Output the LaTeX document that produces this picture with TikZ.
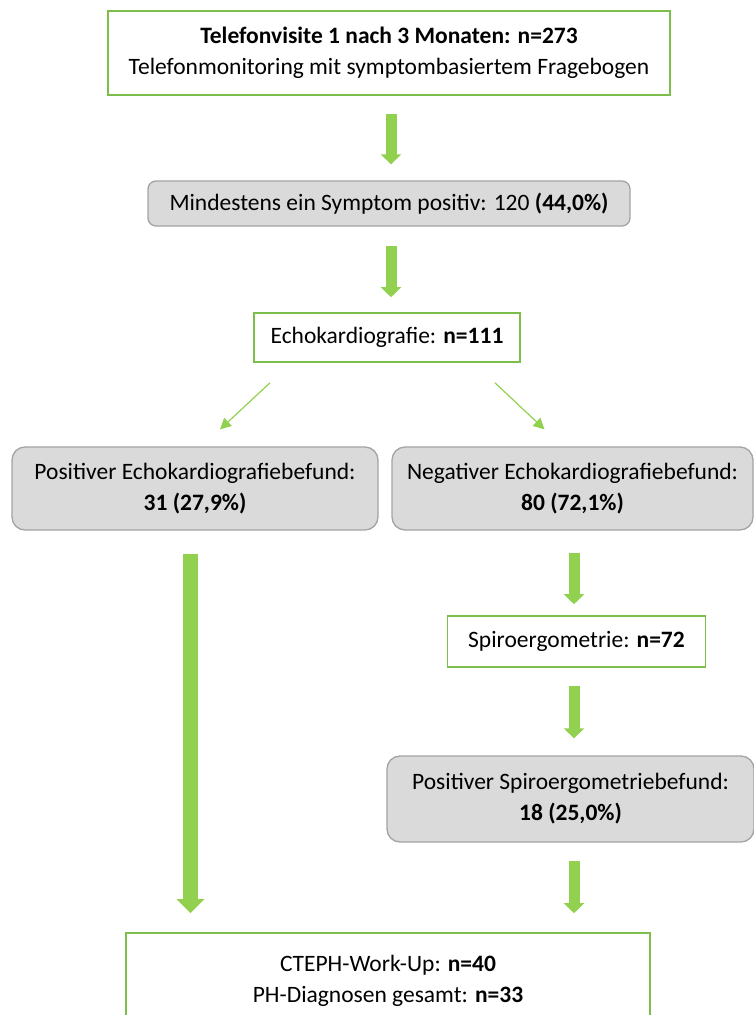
\documentclass[tikz,border=0pt]{standalone}
\usepackage{fontspec}
\setmainfont{Carlito}
\usetikzlibrary{arrows.meta}
\definecolor{gborder}{HTML}{7DBE4B}
\definecolor{garrow}{HTML}{92D050}
\definecolor{gfill}{HTML}{DADADA}
\definecolor{gline}{HTML}{A3A3A3}
\tikzset{
  x=1pt, y=-1pt,
  txt/.style={font=\fontsize{23.5}{31}\selectfont, align=center, inner sep=0pt, text=black},
  greenbox/.style={txt, draw=gborder, line width=1.6pt, fill=white},
  graybox/.style={txt, draw=gline, line width=1.3pt, fill=gfill},
  fatarrow/.style={draw=garrow, line width=11pt, -{Triangle[width=20pt,length=10pt]}},
  bigarrow/.style={draw=garrow, line width=15pt, -{Triangle[width=27pt,length=14pt]}},
  thinarrow/.style={draw=garrow, line width=1.2pt, -{Triangle[width=11pt,length=11pt]}},
}
\begin{document}
\begin{tikzpicture}
\useasboundingbox (0,0) rectangle (754,1015);
\clip (0,0) rectangle (754,1015);
\node[greenbox, minimum width=562pt, minimum height=84pt] (b1) at (389,53)
  {\textbf{Telefonvisite 1 nach 3 Monaten: n=273}\\Telefonmonitoring mit symptombasiertem Fragebogen};
\node[graybox, rounded corners=8pt, minimum width=482pt, minimum height=45pt] (b2) at (389,203.5)
  {Mindestens ein Symptom positiv: 120 \textbf{(44,0\%)}};
\node[greenbox, minimum width=266pt, minimum height=49pt] (b3) at (387,337.5)
  {Echokardiografie: \textbf{n=111}};
\node[graybox, rounded corners=13pt, minimum width=366pt, minimum height=83pt] (pos) at (195,488.5)
  {Positiver Echokardiografiebefund:\\\textbf{31 (27,9\%)}};
\node[graybox, rounded corners=13pt, minimum width=361pt, minimum height=83pt] (neg) at (572.5,488.5)
  {Negativer Echokardiografiebefund:\\\textbf{80 (72,1\%)}};
\node[greenbox, minimum width=258pt, minimum height=51pt] (spiro) at (576.5,641.5)
  {Spiroergometrie: \textbf{n=72}};
\node[graybox, rounded corners=13pt, minimum width=367pt, minimum height=86pt] (spos) at (570.5,799)
  {Positiver Spiroergometriebefund:\\\textbf{18 (25,0\%)}};
\node[draw=gborder, line width=1.6pt, fill=white, minimum width=524pt, minimum height=100pt, inner sep=0pt] (cteph) at (388,983) {};
\node[txt] (ctxt) at (388,981) {CTEPH-Work-Up: \textbf{n=40}\\PH-Diagnosen gesamt: \textbf{n=33}};
% arrows
\draw[fatarrow] ([xshift=2pt,yshift=-18pt]b1.south) -- ([xshift=2pt,yshift=16pt]b2.north);
\draw[fatarrow] ([xshift=2pt,yshift=-19pt]b2.south) -- ([xshift=4pt,yshift=15pt]b3.north);
\draw[thinarrow] ([xshift=-117pt,yshift=-20pt]b3.south) -- ([xshift=25pt,yshift=17pt]pos.north);
\draw[thinarrow] ([xshift=108pt,yshift=-20pt]b3.south) -- ([xshift=-28pt,yshift=17pt]neg.north);
\draw[bigarrow] ([xshift=-4.5pt,yshift=-23pt]pos.south) -- ([xshift=-4.5pt,yshift=19pt]pos.south |- cteph.north);
\draw[fatarrow] ([xshift=1.5pt,yshift=-22pt]neg.south) -- ([xshift=-2.5pt,yshift=11pt]spiro.north);
\draw[fatarrow] ([xshift=-2.5pt,yshift=-18pt]spiro.south) -- ([xshift=3.5pt,yshift=17pt]spos.north);
\draw[fatarrow] ([xshift=3.5pt,yshift=-18pt]spos.south) -- ([xshift=186pt,yshift=19pt]cteph.north);
\end{tikzpicture}
\end{document}
